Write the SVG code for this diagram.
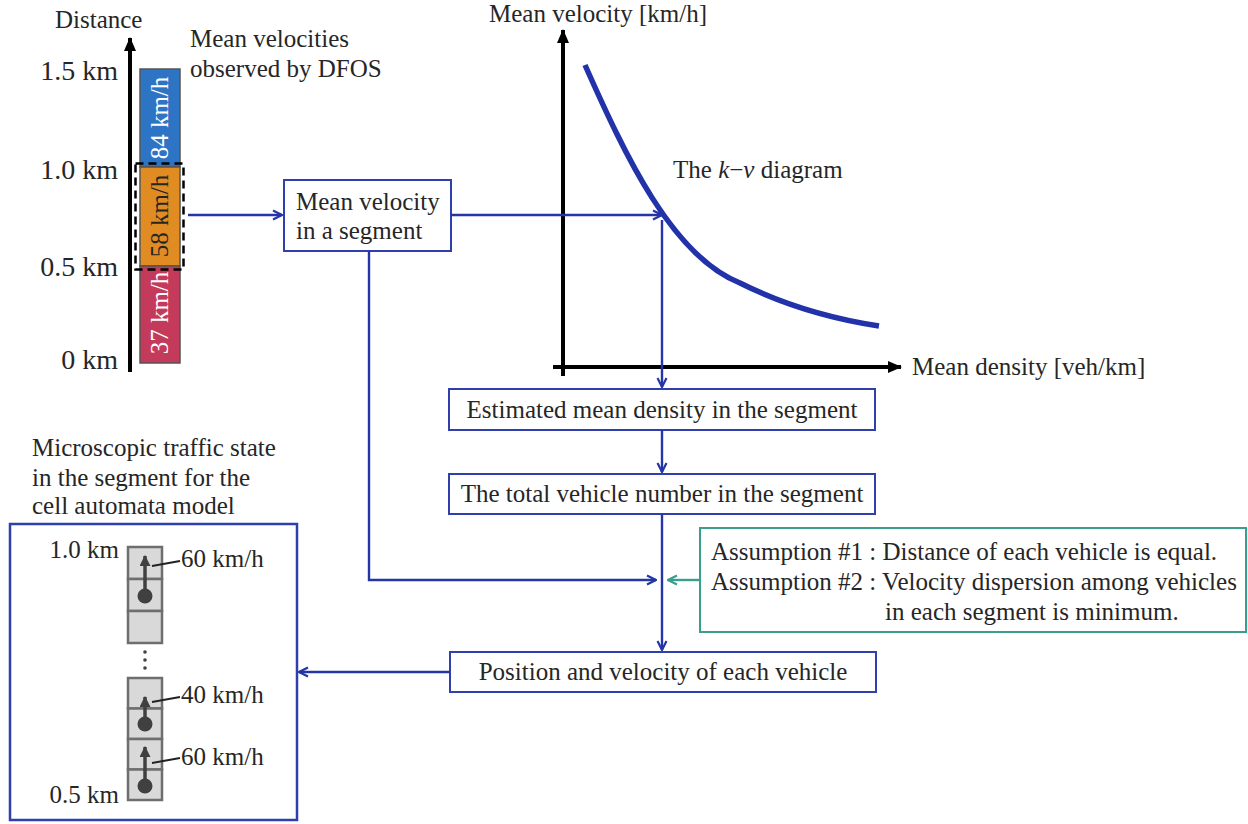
<svg xmlns="http://www.w3.org/2000/svg" width="1248" height="824" viewBox="0 0 1248 824">
<defs>
<style>
text{font-family:"Liberation Serif","Times New Roman",serif;font-size:25px;fill:#262626}
.box{fill:#fff;stroke:#2f3fae;stroke-width:2}
.conn{fill:none;stroke:#2435a8;stroke-width:2.4}
.teal{fill:none;stroke:#3a9e8c;stroke-width:2.4}
.cell{fill:#d9d9d9;stroke:#6e6e6e;stroke-width:2.5}
.car{fill:#404040}
.vel{stroke:#404040;stroke-width:3.5;fill:none}
.lead{stroke:#222;stroke-width:1.8}
.km{font-size:28px}
.wt{fill:#fff}
</style>
<marker id="ob" viewBox="0 0 12 12" refX="11" refY="6" markerWidth="12" markerHeight="12" markerUnits="userSpaceOnUse" orient="auto"><path d="M2,1.5 L11,6 L2,10.5" fill="none" stroke="#2435a8" stroke-width="2.2"/></marker>
<marker id="ot" viewBox="0 0 12 12" refX="11" refY="6" markerWidth="12" markerHeight="12" markerUnits="userSpaceOnUse" orient="auto"><path d="M2,1.5 L11,6 L2,10.5" fill="none" stroke="#3a9e8c" stroke-width="2.2"/></marker>
<marker id="ax" viewBox="0 0 14 12" refX="13" refY="6" markerWidth="14" markerHeight="12" markerUnits="userSpaceOnUse" orient="auto"><path d="M0,0 L14,6 L0,12 Z" fill="#000"/></marker>
<marker id="va" viewBox="0 0 10 10" refX="9" refY="5" markerWidth="11" markerHeight="11" markerUnits="userSpaceOnUse" orient="auto"><path d="M0,0 L10,5 L0,10 Z" fill="#404040"/></marker>
</defs>

<g id="distance-axis">
<line x1="130" y1="372" x2="130" y2="38" stroke="#000" stroke-width="4" marker-end="url(#ax)"/>
<text x="55" y="28" font-size="24">Distance</text>
<text class="km" x="118" y="80" text-anchor="end">1.5 km</text>
<text class="km" x="118" y="179" text-anchor="end">1.0 km</text>
<text class="km" x="118" y="276" text-anchor="end">0.5 km</text>
<text class="km" x="118" y="369" text-anchor="end">0 km</text>
</g>

<g id="dfos-bar">
<text x="190" y="47">Mean velocities</text>
<text x="190" y="77">observed by DFOS</text>
<rect x="140" y="69" width="40" height="98" fill="#2e74c5" stroke="#555" stroke-width="1.5"/>
<rect x="140" y="167" width="40" height="99" fill="#e08c22" stroke="#555" stroke-width="1.5"/>
<rect x="140" y="266" width="40" height="97" fill="#c43a5a" stroke="#555" stroke-width="1.5"/>
<text class="wt" transform="translate(168,118) rotate(-90)" text-anchor="middle">84 km/h</text>
<text transform="translate(168,216) rotate(-90)" text-anchor="middle" fill="#111">58 km/h</text>
<text class="wt" transform="translate(168,313) rotate(-90)" text-anchor="middle">37 km/h</text>
<rect x="135.5" y="163.5" width="48" height="106" fill="none" stroke="#000" stroke-width="2.5" stroke-dasharray="8 5"/>
</g>

<g id="kv-diagram">
<line x1="563" y1="376" x2="563" y2="30" stroke="#000" stroke-width="4" marker-end="url(#ax)"/>
<line x1="553" y1="367" x2="901" y2="367" stroke="#000" stroke-width="4" marker-end="url(#ax)"/>
<text x="489" y="22">Mean velocity [km/h]</text>
<text x="912" y="375">Mean density [veh/km]</text>
<path d="M585,65 C625,155 672,256 740,283 C790,308 840,320 879,326" fill="none" stroke="#2233aa" stroke-width="5.5"/>
<text x="673" y="178">The <tspan font-style="italic">k</tspan>−<tspan font-style="italic">v</tspan> diagram</text>
</g>

<g id="node-mean-velocity">
<rect class="box" x="284" y="180" width="167" height="71"/>
<text x="296" y="210">Mean velocity</text>
<text x="296" y="239">in a segment</text>
</g>

<g id="node-estimated-density">
<rect class="box" x="449" y="389" width="426" height="41"/>
<text x="662" y="418" text-anchor="middle">Estimated mean density in the segment</text>
</g>

<g id="node-total-number">
<rect class="box" x="449" y="474" width="426" height="40"/>
<text x="662" y="502" text-anchor="middle">The total vehicle number in the segment</text>
</g>

<g id="node-assumptions">
<rect x="700" y="528" width="546" height="104" fill="#fff" stroke="#3a9e8c" stroke-width="2"/>
<text x="711" y="560">Assumption #1 : Distance of each vehicle is equal.</text>
<text x="711" y="590">Assumption #2 : Velocity dispersion among vehicles</text>
<text x="885" y="620">in each segment is minimum.</text>
</g>

<g id="node-position-velocity">
<rect class="box" x="450" y="652" width="426" height="40"/>
<text x="663" y="680" text-anchor="middle">Position and velocity of each vehicle</text>
</g>

<g id="node-micro-state">
<text x="32" y="456">Microscopic traffic state</text>
<text x="32" y="486">in the segment for the</text>
<text x="32" y="514">cell automata model</text>
<rect x="10" y="524" width="287" height="296" fill="#fff" stroke="#2f3fae" stroke-width="2.5"/>
<text x="119" y="558" text-anchor="end" font-size="28">1.0 km</text>
<text x="119" y="803" text-anchor="end" font-size="28">0.5 km</text>
<rect class="cell" x="128" y="547" width="34" height="32"/>
<rect class="cell" x="128" y="579" width="34" height="32"/>
<rect class="cell" x="128" y="611" width="34" height="32"/>
<rect class="cell" x="128" y="678" width="34" height="30.5"/>
<rect class="cell" x="128" y="708.5" width="34" height="30.5"/>
<rect class="cell" x="128" y="739" width="34" height="30.5"/>
<rect class="cell" x="128" y="769.5" width="34" height="30.5"/>
<circle cx="145" cy="652" r="1.8" fill="#404040"/>
<circle cx="145" cy="660" r="1.8" fill="#404040"/>
<circle cx="145" cy="668" r="1.8" fill="#404040"/>
<circle class="car" cx="145" cy="596" r="7.5"/>
<line class="vel" x1="145" y1="596" x2="145" y2="556" marker-end="url(#va)"/>
<circle class="car" cx="145" cy="724" r="7.5"/>
<line class="vel" x1="145" y1="724" x2="145" y2="697" marker-end="url(#va)"/>
<circle class="car" cx="145" cy="786" r="7.5"/>
<line class="vel" x1="145" y1="786" x2="145" y2="747" marker-end="url(#va)"/>
<line class="lead" x1="152" y1="566" x2="180" y2="561"/>
<text x="181" y="567" font-size="24">60 km/h</text>
<line class="lead" x1="152" y1="702" x2="180" y2="697"/>
<text x="181" y="703" font-size="24">40 km/h</text>
<line class="lead" x1="152" y1="763" x2="180" y2="758"/>
<text x="181" y="765" font-size="24">60 km/h</text>
</g>

<g id="connectors">
<line class="conn" x1="188" y1="215" x2="282" y2="215" marker-end="url(#ob)"/>
<line class="conn" x1="451" y1="215" x2="662" y2="215" marker-end="url(#ob)"/>
<line class="conn" x1="662" y1="220" x2="662" y2="387" marker-end="url(#ob)"/>
<line class="conn" x1="662" y1="430" x2="662" y2="472" marker-end="url(#ob)"/>
<line class="conn" x1="662" y1="514" x2="662" y2="650" marker-end="url(#ob)"/>
<polyline class="conn" points="369,251 369,580 656,580" marker-end="url(#ob)"/>
<line class="teal" x1="700" y1="580" x2="668" y2="580" marker-end="url(#ot)"/>
<line class="conn" x1="450" y1="672" x2="299" y2="672" marker-end="url(#ob)"/>
</g>
</svg>
